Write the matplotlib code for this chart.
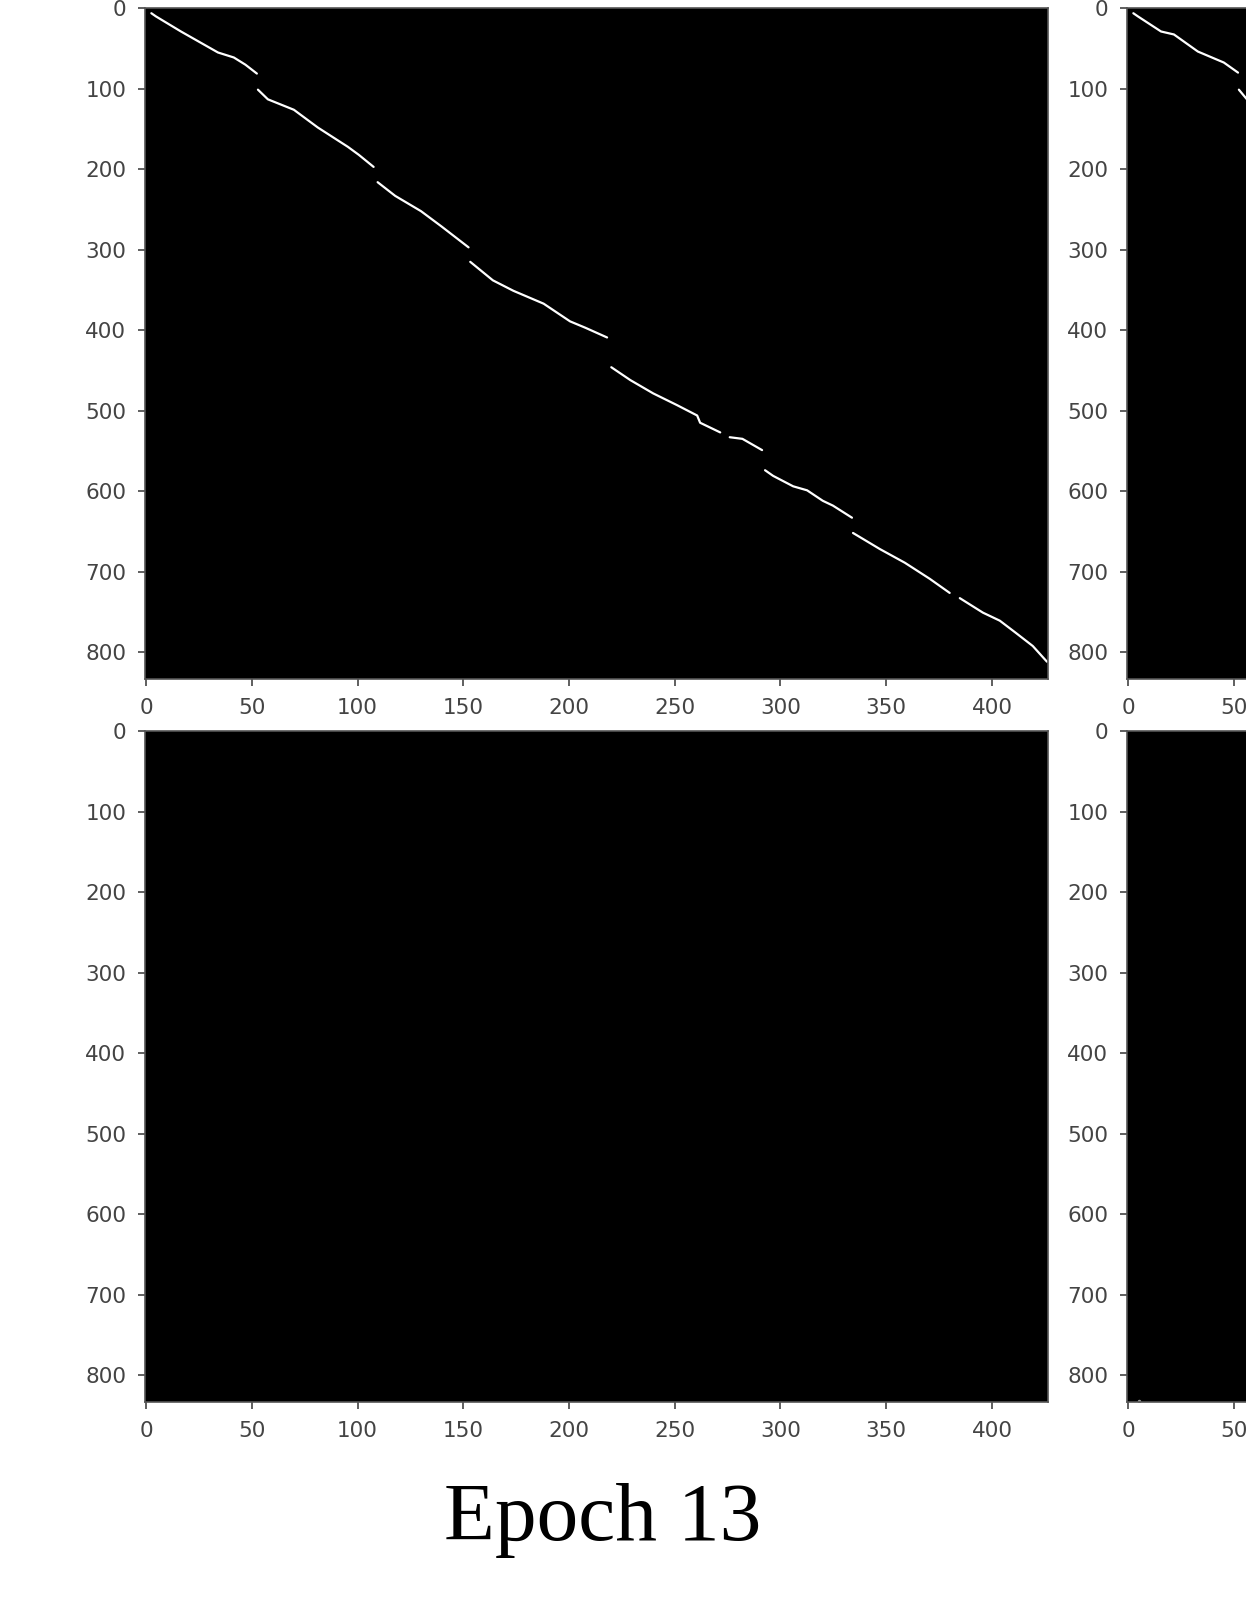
import numpy as np
import matplotlib
matplotlib.use("Agg")
import matplotlib.pyplot as plt

# attention map size (decoder steps x encoder steps)
n_rows = 834
n_cols = 427

# alignment path, top-left map: list of unbroken pieces, each (encoder col, decoder row)
path_top_left = [
    [(2.5, 6), (4.7, 10), (16.5, 28.7), (34, 54.8), (41.5, 61), (47, 70), (52.4, 81)],
    [(52.9, 101), (57.6, 113), (69.9, 126), (81.2, 148), (95.4, 172), (100.6, 182), (107.6, 197)],
    [(109.5, 216), (117.8, 233), (130, 252), (139.7, 271), (152.5, 297)],
    [(153.3, 315), (164, 338), (173.7, 351), (188, 367), (200.5, 389), (207.8, 397), (218, 409)],
    [(220, 446), (229, 462), (239.8, 478.5), (251, 493), (260.6, 506), (262, 515), (271.5, 527)],
    [(276, 533), (282, 535), (291.3, 549)],
    [(292.7, 574), (296.5, 581), (306, 594), (312.6, 599), (320, 612), (324.8, 618), (333.8, 633)],
    [(334.3, 652), (347, 672), (358.8, 689), (370.6, 709), (380, 726.5)],
    [(384.8, 733), (395.7, 751), (403.7, 761), (411.2, 776), (419.3, 792.5), (426, 812)],
]

# top-right map (only its left part is in view)
path_top_right = [
    [(2.5, 6), (4.7, 10), (15.6, 28.7), (21.7, 32.4), (33, 53.6), (45.3, 67.3), (52, 79.8)],
    [(52.4, 101), (56.2, 113), (69, 127), (80, 148)],
]

# bottom-right map: one faint cell near the bottom-left corner
speck_bottom_right = [(5, 832)]

x_ticks = [0, 50, 100, 150, 200, 250, 300, 350, 400]
y_ticks = [0, 100, 200, 300, 400, 500, 600, 700, 800]
title = "Epoch 13"

W, H = 1246, 1612
fig = plt.figure(figsize=(W / 100, H / 100), dpi=100)

col_left = [145 / W, 1127 / W]
row_bottom = [1 - 679 / H, 1 - 1402 / H]
ax_w = 903 / W
ax_h = 671 / H


def draw_map(ax, pieces=None, specks=None):
    ax.imshow(np.zeros((n_rows, n_cols)), cmap="gray", vmin=0, vmax=1,
              aspect="auto", interpolation="nearest")
    for piece in pieces or []:
        xs = [p[0] for p in piece]
        ys = [p[1] for p in piece]
        ax.plot(xs, ys, color="white", lw=1.6, solid_capstyle="round")
    for sx, sy in specks or []:
        ax.plot(sx, sy, ".", color="#999999", ms=3)
    ax.set_xlim(-0.5, n_cols - 0.5)
    ax.set_ylim(n_rows - 0.5, -0.5)
    ax.set_xticks(x_ticks)
    ax.set_yticks(y_ticks)
    ax.tick_params(length=5, width=1.2, labelsize=15.5, colors="#444444",
                   labelcolor="#444444")
    ax.tick_params(axis="x", pad=8.5)
    ax.tick_params(axis="y", pad=8.5)
    for s in ax.spines.values():
        s.set_linewidth(1.2)
        s.set_color("#555555")


ax1 = fig.add_axes([col_left[0], row_bottom[0], ax_w, ax_h])
draw_map(ax1, path_top_left)
ax2 = fig.add_axes([col_left[1], row_bottom[0], ax_w, ax_h])
draw_map(ax2, path_top_right)
ax3 = fig.add_axes([col_left[0], row_bottom[1], ax_w, ax_h])
draw_map(ax3)
ax4 = fig.add_axes([col_left[1], row_bottom[1], ax_w, ax_h])
draw_map(ax4, specks=speck_bottom_right)

fig.text(603 / W, 1 - 1540 / H, title, ha="center", va="baseline",
         fontsize=60, family=["Liberation Serif", "DejaVu Serif"])

fig.savefig("out.png", dpi=100)
